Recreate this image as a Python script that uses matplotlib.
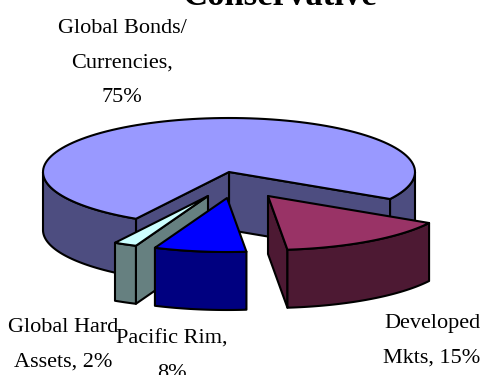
import numpy as np
import matplotlib
matplotlib.use("Agg")
import matplotlib.pyplot as plt
from matplotlib.patches import Polygon

# slices, drawn clockwise from the start angle
categories = ["Developed\nMkts, {}%", "Pacific Rim,\n{}%", "Global Hard\nAssets, {}%", "Global Bonds/\nCurrencies,\n{}%"]
values = [15, 8, 2, 75]
top_colors = ["#993366", "#0000FF", "#CCFFFF", "#9999FF"]
side_colors = ["#4D1933", "#000080", "#668080", "#4D4D80"]
offsets = [(39, 24), (-2, 26), (-21, 24), (0, 0)]
label_pos = [(432, 341), (172, 356), (63, 345), (122, 63)]

plt.rcParams['font.family'] = ['Liberation Serif', 'DejaVu Serif']

fig = plt.figure(figsize=(4.87, 3.75), dpi=100)
ax = fig.add_axes([0, 0, 1, 1])
ax.set_xlim(0, 487)
ax.set_ylim(375, 0)
ax.axis('off')

cx, cy = 229, 172
a, b = 186, 54
depth = 58
start = -30
lw = 1.5


def rim(x0, y0, t1, t2):
    t = np.radians(np.linspace(t1, t2, 120))
    return np.column_stack((x0 + a * np.cos(t), y0 - b * np.sin(t)))


def face(pts, color):
    ax.add_patch(Polygon(pts, closed=True, facecolor=color, edgecolor='black', linewidth=lw, joinstyle='round'))


def wall(p, q, color):
    p = np.array(p, dtype=float)
    q = np.array(q, dtype=float)
    face([p, q, q + (0, depth), p + (0, depth)], color)


def outer(x0, y0, t1, t2, color):
    r = rim(x0, y0, t1, t2)
    face(np.vstack((r, r[::-1] + (0, depth))), color)


# angles for every slice, going clockwise
edges = start - np.cumsum([0] + values) * 3.6

# large slice sits at the back and goes first
wall((cx, cy), rim(cx, cy, edges[0], edges[0])[0], side_colors[3])
wall((cx, cy), rim(cx, cy, edges[3], edges[3])[0], side_colors[3])
outer(cx, cy, -180, edges[3], side_colors[3])
outer(cx, cy, edges[0], 0, side_colors[3])
face(np.vstack(([cx, cy], rim(cx, cy, edges[3], edges[4]))), top_colors[3])

# exploded slices, back to front
for i in [2, 1, 0]:
    t1, t2 = edges[i + 1], edges[i]
    x0, y0 = cx + offsets[i][0], cy + offsets[i][1]
    if i == 0:
        wall((x0, y0), rim(x0, y0, t1, t1)[0], side_colors[i])
    if i == 2:
        wall((x0, y0), rim(x0, y0, t2, t2)[0], side_colors[i])
    outer(x0, y0, t1, t2, side_colors[i])
    face(np.vstack(([x0, y0], rim(x0, y0, t1, t2))), top_colors[i])

for name, val, (x, y) in zip(categories, values, label_pos):
    ax.text(x, y, name.format(val), ha='center', va='center', fontsize=16, linespacing=2.1, color='black')

ax.text(280, 5, "Conservative", ha='center', va='baseline', fontsize=25, fontweight='bold', color='black')

plt.savefig('out.png', dpi=100)
